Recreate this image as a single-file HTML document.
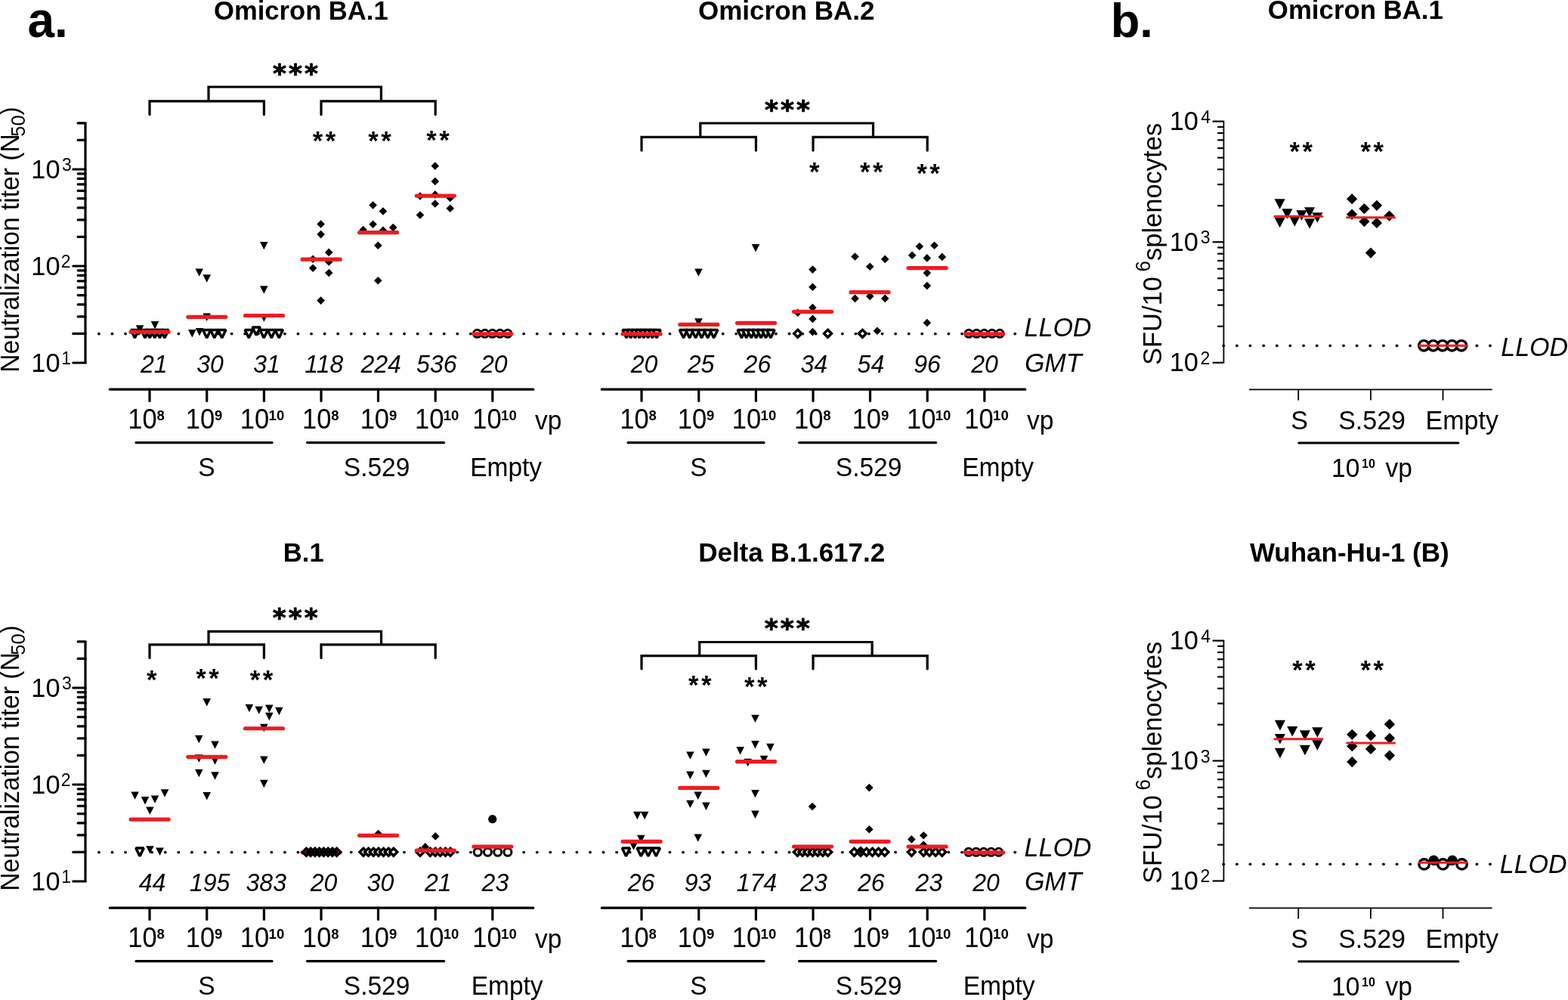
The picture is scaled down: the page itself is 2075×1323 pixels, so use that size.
<!DOCTYPE html>
<html><head><meta charset="utf-8"><title>Figure</title>
<style>
html,body{margin:0;padding:0;background:#fff;}
svg{display:block;}
text{fill:#000;}
.r{font-family:"Liberation Sans",Arial,sans-serif;}
.b{font-family:"Liberation Sans",Arial,sans-serif;font-weight:bold;}
.i{font-family:"Liberation Sans",Arial,sans-serif;font-style:italic;}
.db{font-family:"DejaVu Sans",sans-serif;font-weight:bold;}
</style></head>
<body>
<svg width="2075" height="1323" viewBox="0 0 2075 1323">
<rect width="2075" height="1323" fill="#fff"/>
<text transform="matrix(1 0 0 1.05 0 -2.45)" class="b" x="36.38" y="49.00" font-size="64">a.</text>
<text class="b" x="1469.67" y="48.80" font-size="63.3">b.</text>
<text class="b" x="283.09" y="26.20" font-size="34.6">Omicron BA.1</text>
<text class="b" x="924.02" y="26.00" font-size="35.0">Omicron BA.2</text>
<text class="b" x="374.82" y="742.70" font-size="34.6">B.1</text>
<text class="b" x="924.17" y="743.10" font-size="35.0">Delta B.1.617.2</text>
<text class="b" x="1677.87" y="25.00" font-size="34.8">Omicron BA.1</text>
<text class="b" x="1653.95" y="742.70" font-size="35.0">Wuhan-Hu-1 (B)</text>
<circle cx="130.90" cy="441.60" r="1.9"/>
<circle cx="148.47" cy="441.60" r="1.9"/>
<circle cx="166.04" cy="441.60" r="1.9"/>
<circle cx="183.61" cy="441.60" r="1.9"/>
<circle cx="201.18" cy="441.60" r="1.9"/>
<circle cx="218.75" cy="441.60" r="1.9"/>
<circle cx="236.32" cy="441.60" r="1.9"/>
<circle cx="253.89" cy="441.60" r="1.9"/>
<circle cx="271.46" cy="441.60" r="1.9"/>
<circle cx="289.03" cy="441.60" r="1.9"/>
<circle cx="306.60" cy="441.60" r="1.9"/>
<circle cx="324.17" cy="441.60" r="1.9"/>
<circle cx="341.74" cy="441.60" r="1.9"/>
<circle cx="359.31" cy="441.60" r="1.9"/>
<circle cx="376.88" cy="441.60" r="1.9"/>
<circle cx="394.45" cy="441.60" r="1.9"/>
<circle cx="412.02" cy="441.60" r="1.9"/>
<circle cx="429.59" cy="441.60" r="1.9"/>
<circle cx="447.16" cy="441.60" r="1.9"/>
<circle cx="464.73" cy="441.60" r="1.9"/>
<circle cx="482.30" cy="441.60" r="1.9"/>
<circle cx="499.87" cy="441.60" r="1.9"/>
<circle cx="517.44" cy="441.60" r="1.9"/>
<circle cx="535.01" cy="441.60" r="1.9"/>
<circle cx="552.58" cy="441.60" r="1.9"/>
<circle cx="570.15" cy="441.60" r="1.9"/>
<circle cx="587.72" cy="441.60" r="1.9"/>
<circle cx="605.29" cy="441.60" r="1.9"/>
<circle cx="622.86" cy="441.60" r="1.9"/>
<circle cx="640.43" cy="441.60" r="1.9"/>
<circle cx="658.00" cy="441.60" r="1.9"/>
<circle cx="675.57" cy="441.60" r="1.9"/>
<circle cx="693.14" cy="441.60" r="1.9"/>
<circle cx="710.71" cy="441.60" r="1.9"/>
<circle cx="728.28" cy="441.60" r="1.9"/>
<circle cx="745.85" cy="441.60" r="1.9"/>
<circle cx="763.42" cy="441.60" r="1.9"/>
<circle cx="780.99" cy="441.60" r="1.9"/>
<circle cx="798.56" cy="441.60" r="1.9"/>
<circle cx="816.13" cy="441.60" r="1.9"/>
<circle cx="833.70" cy="441.60" r="1.9"/>
<circle cx="851.27" cy="441.60" r="1.9"/>
<circle cx="868.84" cy="441.60" r="1.9"/>
<circle cx="886.41" cy="441.60" r="1.9"/>
<circle cx="903.98" cy="441.60" r="1.9"/>
<circle cx="921.55" cy="441.60" r="1.9"/>
<circle cx="939.12" cy="441.60" r="1.9"/>
<circle cx="956.69" cy="441.60" r="1.9"/>
<circle cx="974.26" cy="441.60" r="1.9"/>
<circle cx="991.83" cy="441.60" r="1.9"/>
<circle cx="1009.40" cy="441.60" r="1.9"/>
<circle cx="1026.97" cy="441.60" r="1.9"/>
<circle cx="1044.54" cy="441.60" r="1.9"/>
<circle cx="1062.11" cy="441.60" r="1.9"/>
<circle cx="1079.68" cy="441.60" r="1.9"/>
<circle cx="1097.25" cy="441.60" r="1.9"/>
<circle cx="1114.82" cy="441.60" r="1.9"/>
<circle cx="1132.39" cy="441.60" r="1.9"/>
<circle cx="1149.96" cy="441.60" r="1.9"/>
<circle cx="1167.53" cy="441.60" r="1.9"/>
<circle cx="1185.10" cy="441.60" r="1.9"/>
<circle cx="1202.67" cy="441.60" r="1.9"/>
<circle cx="1220.24" cy="441.60" r="1.9"/>
<circle cx="1237.81" cy="441.60" r="1.9"/>
<circle cx="1255.38" cy="441.60" r="1.9"/>
<circle cx="1272.95" cy="441.60" r="1.9"/>
<circle cx="1290.52" cy="441.60" r="1.9"/>
<circle cx="1308.09" cy="441.60" r="1.9"/>
<circle cx="1325.66" cy="441.60" r="1.9"/>
<circle cx="1343.23" cy="441.60" r="1.9"/>
<circle cx="130.90" cy="1127.60" r="1.9"/>
<circle cx="148.47" cy="1127.60" r="1.9"/>
<circle cx="166.04" cy="1127.60" r="1.9"/>
<circle cx="183.61" cy="1127.60" r="1.9"/>
<circle cx="201.18" cy="1127.60" r="1.9"/>
<circle cx="218.75" cy="1127.60" r="1.9"/>
<circle cx="236.32" cy="1127.60" r="1.9"/>
<circle cx="253.89" cy="1127.60" r="1.9"/>
<circle cx="271.46" cy="1127.60" r="1.9"/>
<circle cx="289.03" cy="1127.60" r="1.9"/>
<circle cx="306.60" cy="1127.60" r="1.9"/>
<circle cx="324.17" cy="1127.60" r="1.9"/>
<circle cx="341.74" cy="1127.60" r="1.9"/>
<circle cx="359.31" cy="1127.60" r="1.9"/>
<circle cx="376.88" cy="1127.60" r="1.9"/>
<circle cx="394.45" cy="1127.60" r="1.9"/>
<circle cx="412.02" cy="1127.60" r="1.9"/>
<circle cx="429.59" cy="1127.60" r="1.9"/>
<circle cx="447.16" cy="1127.60" r="1.9"/>
<circle cx="464.73" cy="1127.60" r="1.9"/>
<circle cx="482.30" cy="1127.60" r="1.9"/>
<circle cx="499.87" cy="1127.60" r="1.9"/>
<circle cx="517.44" cy="1127.60" r="1.9"/>
<circle cx="535.01" cy="1127.60" r="1.9"/>
<circle cx="552.58" cy="1127.60" r="1.9"/>
<circle cx="570.15" cy="1127.60" r="1.9"/>
<circle cx="587.72" cy="1127.60" r="1.9"/>
<circle cx="605.29" cy="1127.60" r="1.9"/>
<circle cx="622.86" cy="1127.60" r="1.9"/>
<circle cx="640.43" cy="1127.60" r="1.9"/>
<circle cx="658.00" cy="1127.60" r="1.9"/>
<circle cx="675.57" cy="1127.60" r="1.9"/>
<circle cx="693.14" cy="1127.60" r="1.9"/>
<circle cx="710.71" cy="1127.60" r="1.9"/>
<circle cx="728.28" cy="1127.60" r="1.9"/>
<circle cx="745.85" cy="1127.60" r="1.9"/>
<circle cx="763.42" cy="1127.60" r="1.9"/>
<circle cx="780.99" cy="1127.60" r="1.9"/>
<circle cx="798.56" cy="1127.60" r="1.9"/>
<circle cx="816.13" cy="1127.60" r="1.9"/>
<circle cx="833.70" cy="1127.60" r="1.9"/>
<circle cx="851.27" cy="1127.60" r="1.9"/>
<circle cx="868.84" cy="1127.60" r="1.9"/>
<circle cx="886.41" cy="1127.60" r="1.9"/>
<circle cx="903.98" cy="1127.60" r="1.9"/>
<circle cx="921.55" cy="1127.60" r="1.9"/>
<circle cx="939.12" cy="1127.60" r="1.9"/>
<circle cx="956.69" cy="1127.60" r="1.9"/>
<circle cx="974.26" cy="1127.60" r="1.9"/>
<circle cx="991.83" cy="1127.60" r="1.9"/>
<circle cx="1009.40" cy="1127.60" r="1.9"/>
<circle cx="1026.97" cy="1127.60" r="1.9"/>
<circle cx="1044.54" cy="1127.60" r="1.9"/>
<circle cx="1062.11" cy="1127.60" r="1.9"/>
<circle cx="1079.68" cy="1127.60" r="1.9"/>
<circle cx="1097.25" cy="1127.60" r="1.9"/>
<circle cx="1114.82" cy="1127.60" r="1.9"/>
<circle cx="1132.39" cy="1127.60" r="1.9"/>
<circle cx="1149.96" cy="1127.60" r="1.9"/>
<circle cx="1167.53" cy="1127.60" r="1.9"/>
<circle cx="1185.10" cy="1127.60" r="1.9"/>
<circle cx="1202.67" cy="1127.60" r="1.9"/>
<circle cx="1220.24" cy="1127.60" r="1.9"/>
<circle cx="1237.81" cy="1127.60" r="1.9"/>
<circle cx="1255.38" cy="1127.60" r="1.9"/>
<circle cx="1272.95" cy="1127.60" r="1.9"/>
<circle cx="1290.52" cy="1127.60" r="1.9"/>
<circle cx="1308.09" cy="1127.60" r="1.9"/>
<circle cx="1325.66" cy="1127.60" r="1.9"/>
<circle cx="1343.23" cy="1127.60" r="1.9"/>
<circle cx="1619.20" cy="457.30" r="1.9"/>
<circle cx="1636.84" cy="457.30" r="1.9"/>
<circle cx="1654.48" cy="457.30" r="1.9"/>
<circle cx="1672.12" cy="457.30" r="1.9"/>
<circle cx="1689.76" cy="457.30" r="1.9"/>
<circle cx="1707.40" cy="457.30" r="1.9"/>
<circle cx="1725.04" cy="457.30" r="1.9"/>
<circle cx="1742.68" cy="457.30" r="1.9"/>
<circle cx="1760.32" cy="457.30" r="1.9"/>
<circle cx="1777.96" cy="457.30" r="1.9"/>
<circle cx="1795.60" cy="457.30" r="1.9"/>
<circle cx="1813.24" cy="457.30" r="1.9"/>
<circle cx="1830.88" cy="457.30" r="1.9"/>
<circle cx="1848.52" cy="457.30" r="1.9"/>
<circle cx="1866.16" cy="457.30" r="1.9"/>
<circle cx="1883.80" cy="457.30" r="1.9"/>
<circle cx="1901.44" cy="457.30" r="1.9"/>
<circle cx="1919.08" cy="457.30" r="1.9"/>
<circle cx="1936.72" cy="457.30" r="1.9"/>
<circle cx="1954.36" cy="457.30" r="1.9"/>
<circle cx="1972.00" cy="457.30" r="1.9"/>
<circle cx="1619.20" cy="1143.30" r="1.9"/>
<circle cx="1636.84" cy="1143.30" r="1.9"/>
<circle cx="1654.48" cy="1143.30" r="1.9"/>
<circle cx="1672.12" cy="1143.30" r="1.9"/>
<circle cx="1689.76" cy="1143.30" r="1.9"/>
<circle cx="1707.40" cy="1143.30" r="1.9"/>
<circle cx="1725.04" cy="1143.30" r="1.9"/>
<circle cx="1742.68" cy="1143.30" r="1.9"/>
<circle cx="1760.32" cy="1143.30" r="1.9"/>
<circle cx="1777.96" cy="1143.30" r="1.9"/>
<circle cx="1795.60" cy="1143.30" r="1.9"/>
<circle cx="1813.24" cy="1143.30" r="1.9"/>
<circle cx="1830.88" cy="1143.30" r="1.9"/>
<circle cx="1848.52" cy="1143.30" r="1.9"/>
<circle cx="1866.16" cy="1143.30" r="1.9"/>
<circle cx="1883.80" cy="1143.30" r="1.9"/>
<circle cx="1901.44" cy="1143.30" r="1.9"/>
<circle cx="1919.08" cy="1143.30" r="1.9"/>
<circle cx="1936.72" cy="1143.30" r="1.9"/>
<circle cx="1954.36" cy="1143.30" r="1.9"/>
<circle cx="1972.00" cy="1143.30" r="1.9"/>
<line x1="145.40" y1="515.20" x2="705.70" y2="515.20" stroke="#000" stroke-width="3.2" stroke-linecap="round"/>
<line x1="198.00" y1="515.20" x2="198.00" y2="530.50" stroke="#000" stroke-width="3.2" stroke-linecap="round"/>
<line x1="273.70" y1="515.20" x2="273.70" y2="530.50" stroke="#000" stroke-width="3.2" stroke-linecap="round"/>
<line x1="349.40" y1="515.20" x2="349.40" y2="530.50" stroke="#000" stroke-width="3.2" stroke-linecap="round"/>
<line x1="425.00" y1="515.20" x2="425.00" y2="530.50" stroke="#000" stroke-width="3.2" stroke-linecap="round"/>
<line x1="500.50" y1="515.20" x2="500.50" y2="530.50" stroke="#000" stroke-width="3.2" stroke-linecap="round"/>
<line x1="576.20" y1="515.20" x2="576.20" y2="530.50" stroke="#000" stroke-width="3.2" stroke-linecap="round"/>
<line x1="651.80" y1="515.20" x2="651.80" y2="530.50" stroke="#000" stroke-width="3.2" stroke-linecap="round"/>
<text class="r" x="169.26" y="567.00" font-size="34.5" transform="matrix(1 0 0 1.045 0 -25.515)">10</text>
<text class="b" x="207.57" y="555.50" font-size="18.5">8</text>
<text class="r" x="245.76" y="567.00" font-size="34.5" transform="matrix(1 0 0 1.045 0 -25.515)">10</text>
<text class="b" x="284.06" y="555.50" font-size="18.5">9</text>
<text class="r" x="317.85" y="567.00" font-size="34.5" transform="matrix(1 0 0 1.045 0 -25.515)">10</text>
<text class="b" x="355.60" y="555.50" font-size="18.5">10</text>
<text class="r" x="399.96" y="567.00" font-size="34.5" transform="matrix(1 0 0 1.045 0 -25.515)">10</text>
<text class="b" x="438.27" y="555.50" font-size="18.5">8</text>
<text class="r" x="476.66" y="567.00" font-size="34.5" transform="matrix(1 0 0 1.045 0 -25.515)">10</text>
<text class="b" x="514.96" y="555.50" font-size="18.5">9</text>
<text class="r" x="548.96" y="567.00" font-size="34.5" transform="matrix(1 0 0 1.045 0 -25.515)">10</text>
<text class="b" x="586.71" y="555.50" font-size="18.5">10</text>
<text class="r" x="625.35" y="567.00" font-size="34.5" transform="matrix(1 0 0 1.045 0 -25.515)">10</text>
<text class="b" x="663.10" y="555.50" font-size="18.5">10</text>
<text class="r" x="707.91" y="567.60" font-size="33.5" transform="matrix(1 0 0 1.045 0 -25.542)">vp</text>
<line x1="180.00" y1="585.60" x2="360.00" y2="585.60" stroke="#000" stroke-width="3.2" stroke-linecap="round"/>
<line x1="406.50" y1="585.60" x2="587.60" y2="585.60" stroke="#000" stroke-width="3.2" stroke-linecap="round"/>
<text class="r" x="262.28" y="630.50" font-size="33.5" transform="matrix(1 0 0 1.045 0 -28.372)">S</text>
<text class="r" x="454.81" y="630.50" font-size="33.5" transform="matrix(1 0 0 1.045 0 -28.372)">S.529</text>
<text class="r" x="622.16" y="630.30" font-size="33.5" transform="matrix(1 0 0 1.045 0 -28.363)">Empty</text>
<text class="i" x="185.98" y="493.00" font-size="32" transform="matrix(1 0 0 1.045 0 -22.185)">21</text>
<text class="i" x="260.16" y="493.00" font-size="32" transform="matrix(1 0 0 1.045 0 -22.185)">30</text>
<text class="i" x="335.34" y="493.00" font-size="32" transform="matrix(1 0 0 1.045 0 -22.185)">31</text>
<text class="i" x="403.38" y="493.00" font-size="32" transform="matrix(1 0 0 1.045 0 -22.185)">118</text>
<text class="i" x="477.38" y="493.00" font-size="32" transform="matrix(1 0 0 1.045 0 -22.185)">224</text>
<text class="i" x="551.12" y="493.00" font-size="32" transform="matrix(1 0 0 1.045 0 -22.185)">536</text>
<text class="i" x="636.00" y="493.00" font-size="32" transform="matrix(1 0 0 1.045 0 -22.185)">20</text>
<polyline points="198.00,151.60 198.00,133.80 349.40,133.80 349.40,151.60" fill="none" stroke="#000" stroke-width="3.2" stroke-linecap="round" stroke-linejoin="miter"/>
<polyline points="425.00,151.60 425.00,133.80 576.20,133.80 576.20,151.60" fill="none" stroke="#000" stroke-width="3.2" stroke-linecap="round" stroke-linejoin="miter"/>
<polyline points="276.00,133.80 276.00,115.00 504.40,115.00 504.40,133.80" fill="none" stroke="#000" stroke-width="3.2" stroke-linecap="butt" stroke-linejoin="miter"/>
<text class="db" x="361.07" y="109.35" font-size="34.3" letter-spacing="3.00" stroke="#000" stroke-width="0.9" stroke-linejoin="round">***</text>
<text class="b" x="413.72" y="197.80" font-size="34.7" letter-spacing="3.50">**</text>
<text class="b" x="487.32" y="197.80" font-size="34.7" letter-spacing="3.50">**</text>
<text class="b" x="564.22" y="196.50" font-size="34.7" letter-spacing="3.50">**</text>
<line x1="113.00" y1="161.93" x2="113.00" y2="481.20" stroke="#000" stroke-width="3.2" stroke-linecap="butt"/>
<line x1="96.80" y1="480.00" x2="113.00" y2="480.00" stroke="#000" stroke-width="3.2" stroke-linecap="round"/>
<text class="r" x="41.36" y="491.60" font-size="34.3" transform="matrix(1 0 0 1.045 0 -22.122)">10</text>
<text class="r" x="81.16" y="481.60" font-size="23.0" transform="matrix(1 0 0 1.045 0 -21.672)">1</text>
<line x1="96.80" y1="352.00" x2="113.00" y2="352.00" stroke="#000" stroke-width="3.2" stroke-linecap="round"/>
<text class="r" x="41.36" y="363.60" font-size="34.3" transform="matrix(1 0 0 1.045 0 -16.362)">10</text>
<text class="r" x="80.85" y="353.60" font-size="23.0" transform="matrix(1 0 0 1.045 0 -15.912)">2</text>
<line x1="96.80" y1="224.00" x2="113.00" y2="224.00" stroke="#000" stroke-width="3.2" stroke-linecap="round"/>
<text class="r" x="41.36" y="235.60" font-size="34.3" transform="matrix(1 0 0 1.045 0 -10.602)">10</text>
<text class="r" x="82.08" y="225.60" font-size="23.0" transform="matrix(1 0 0 1.045 0 -10.152)">3</text>
<line x1="96.80" y1="441.47" x2="113.00" y2="441.47" stroke="#000" stroke-width="3.2" stroke-linecap="round"/>
<line x1="103.20" y1="418.93" x2="113.00" y2="418.93" stroke="#000" stroke-width="3.2" stroke-linecap="round"/>
<line x1="103.20" y1="402.94" x2="113.00" y2="402.94" stroke="#000" stroke-width="3.2" stroke-linecap="round"/>
<line x1="103.20" y1="390.53" x2="113.00" y2="390.53" stroke="#000" stroke-width="3.2" stroke-linecap="round"/>
<line x1="103.20" y1="380.40" x2="113.00" y2="380.40" stroke="#000" stroke-width="3.2" stroke-linecap="round"/>
<line x1="103.20" y1="371.83" x2="113.00" y2="371.83" stroke="#000" stroke-width="3.2" stroke-linecap="round"/>
<line x1="103.20" y1="364.40" x2="113.00" y2="364.40" stroke="#000" stroke-width="3.2" stroke-linecap="round"/>
<line x1="103.20" y1="357.86" x2="113.00" y2="357.86" stroke="#000" stroke-width="3.2" stroke-linecap="round"/>
<line x1="103.20" y1="313.47" x2="113.00" y2="313.47" stroke="#000" stroke-width="3.2" stroke-linecap="round"/>
<line x1="103.20" y1="290.93" x2="113.00" y2="290.93" stroke="#000" stroke-width="3.2" stroke-linecap="round"/>
<line x1="103.20" y1="274.94" x2="113.00" y2="274.94" stroke="#000" stroke-width="3.2" stroke-linecap="round"/>
<line x1="103.20" y1="262.53" x2="113.00" y2="262.53" stroke="#000" stroke-width="3.2" stroke-linecap="round"/>
<line x1="103.20" y1="252.40" x2="113.00" y2="252.40" stroke="#000" stroke-width="3.2" stroke-linecap="round"/>
<line x1="103.20" y1="243.83" x2="113.00" y2="243.83" stroke="#000" stroke-width="3.2" stroke-linecap="round"/>
<line x1="103.20" y1="236.40" x2="113.00" y2="236.40" stroke="#000" stroke-width="3.2" stroke-linecap="round"/>
<line x1="103.20" y1="229.86" x2="113.00" y2="229.86" stroke="#000" stroke-width="3.2" stroke-linecap="round"/>
<line x1="103.20" y1="185.47" x2="113.00" y2="185.47" stroke="#000" stroke-width="3.2" stroke-linecap="round"/>
<line x1="103.20" y1="162.93" x2="113.00" y2="162.93" stroke="#000" stroke-width="3.2" stroke-linecap="round"/>
<text class="r" font-size="33.6" transform="translate(25.00,492.70) rotate(-90) scale(1,1.03)">Neutralization titer (N<tspan font-size="25.5" dx="-3.5" dy="7.8">50</tspan><tspan dy="-7.8">)</tspan></text>
<line x1="796.40" y1="515.20" x2="1356.70" y2="515.20" stroke="#000" stroke-width="3.2" stroke-linecap="round"/>
<line x1="849.00" y1="515.20" x2="849.00" y2="530.50" stroke="#000" stroke-width="3.2" stroke-linecap="round"/>
<line x1="924.70" y1="515.20" x2="924.70" y2="530.50" stroke="#000" stroke-width="3.2" stroke-linecap="round"/>
<line x1="1000.40" y1="515.20" x2="1000.40" y2="530.50" stroke="#000" stroke-width="3.2" stroke-linecap="round"/>
<line x1="1076.00" y1="515.20" x2="1076.00" y2="530.50" stroke="#000" stroke-width="3.2" stroke-linecap="round"/>
<line x1="1151.50" y1="515.20" x2="1151.50" y2="530.50" stroke="#000" stroke-width="3.2" stroke-linecap="round"/>
<line x1="1227.20" y1="515.20" x2="1227.20" y2="530.50" stroke="#000" stroke-width="3.2" stroke-linecap="round"/>
<line x1="1302.80" y1="515.20" x2="1302.80" y2="530.50" stroke="#000" stroke-width="3.2" stroke-linecap="round"/>
<text class="r" x="820.27" y="567.00" font-size="34.5" transform="matrix(1 0 0 1.045 0 -25.515)">10</text>
<text class="b" x="858.57" y="555.50" font-size="18.5">8</text>
<text class="r" x="896.76" y="567.00" font-size="34.5" transform="matrix(1 0 0 1.045 0 -25.515)">10</text>
<text class="b" x="935.06" y="555.50" font-size="18.5">9</text>
<text class="r" x="968.86" y="567.00" font-size="34.5" transform="matrix(1 0 0 1.045 0 -25.515)">10</text>
<text class="b" x="1006.61" y="555.50" font-size="18.5">10</text>
<text class="r" x="1050.97" y="567.00" font-size="34.5" transform="matrix(1 0 0 1.045 0 -25.515)">10</text>
<text class="b" x="1089.27" y="555.50" font-size="18.5">8</text>
<text class="r" x="1127.66" y="567.00" font-size="34.5" transform="matrix(1 0 0 1.045 0 -25.515)">10</text>
<text class="b" x="1165.96" y="555.50" font-size="18.5">9</text>
<text class="r" x="1199.96" y="567.00" font-size="34.5" transform="matrix(1 0 0 1.045 0 -25.515)">10</text>
<text class="b" x="1237.71" y="555.50" font-size="18.5">10</text>
<text class="r" x="1276.36" y="567.00" font-size="34.5" transform="matrix(1 0 0 1.045 0 -25.515)">10</text>
<text class="b" x="1314.11" y="555.50" font-size="18.5">10</text>
<text class="r" x="1358.91" y="567.60" font-size="33.5" transform="matrix(1 0 0 1.045 0 -25.542)">vp</text>
<line x1="831.00" y1="585.60" x2="1011.00" y2="585.60" stroke="#000" stroke-width="3.2" stroke-linecap="round"/>
<line x1="1057.50" y1="585.60" x2="1238.60" y2="585.60" stroke="#000" stroke-width="3.2" stroke-linecap="round"/>
<text class="r" x="913.28" y="630.50" font-size="33.5" transform="matrix(1 0 0 1.045 0 -28.372)">S</text>
<text class="r" x="1105.82" y="630.50" font-size="33.5" transform="matrix(1 0 0 1.045 0 -28.372)">S.529</text>
<text class="r" x="1273.16" y="630.30" font-size="33.5" transform="matrix(1 0 0 1.045 0 -28.363)">Empty</text>
<text class="i" x="834.80" y="493.00" font-size="32" transform="matrix(1 0 0 1.045 0 -22.185)">20</text>
<text class="i" x="909.74" y="493.00" font-size="32" transform="matrix(1 0 0 1.045 0 -22.185)">25</text>
<text class="i" x="984.60" y="493.00" font-size="32" transform="matrix(1 0 0 1.045 0 -22.185)">26</text>
<text class="i" x="1059.44" y="493.00" font-size="32" transform="matrix(1 0 0 1.045 0 -22.185)">34</text>
<text class="i" x="1134.60" y="493.00" font-size="32" transform="matrix(1 0 0 1.045 0 -22.185)">54</text>
<text class="i" x="1209.20" y="493.00" font-size="32" transform="matrix(1 0 0 1.045 0 -22.185)">96</text>
<text class="i" x="1285.30" y="493.00" font-size="32" transform="matrix(1 0 0 1.045 0 -22.185)">20</text>
<polyline points="849.00,199.10 849.00,181.30 1000.40,181.30 1000.40,199.10" fill="none" stroke="#000" stroke-width="3.2" stroke-linecap="round" stroke-linejoin="miter"/>
<polyline points="1076.00,199.10 1076.00,181.30 1227.20,181.30 1227.20,199.10" fill="none" stroke="#000" stroke-width="3.2" stroke-linecap="round" stroke-linejoin="miter"/>
<polyline points="926.80,181.30 926.80,163.00 1155.50,163.00 1155.50,181.30" fill="none" stroke="#000" stroke-width="3.2" stroke-linecap="butt" stroke-linejoin="miter"/>
<text class="db" x="1012.07" y="157.05" font-size="34.3" letter-spacing="3.00" stroke="#000" stroke-width="0.9" stroke-linejoin="round">***</text>
<text class="b" x="1070.93" y="238.90" font-size="34.7" letter-spacing="3.50">*</text>
<text class="b" x="1138.12" y="238.90" font-size="34.7" letter-spacing="3.50">**</text>
<text class="b" x="1213.22" y="240.90" font-size="34.7" letter-spacing="3.50">**</text>
<text class="i" x="1355.58" y="445.00" font-size="34" transform="matrix(1 0 0 1.045 0 -20.025)">LLOD</text>
<text class="i" x="1355.90" y="492.20" font-size="34" transform="matrix(1 0 0 1.045 0 -22.149)">GMT</text>
<line x1="145.40" y1="1201.20" x2="705.70" y2="1201.20" stroke="#000" stroke-width="3.2" stroke-linecap="round"/>
<line x1="198.00" y1="1201.20" x2="198.00" y2="1216.50" stroke="#000" stroke-width="3.2" stroke-linecap="round"/>
<line x1="273.70" y1="1201.20" x2="273.70" y2="1216.50" stroke="#000" stroke-width="3.2" stroke-linecap="round"/>
<line x1="349.40" y1="1201.20" x2="349.40" y2="1216.50" stroke="#000" stroke-width="3.2" stroke-linecap="round"/>
<line x1="425.00" y1="1201.20" x2="425.00" y2="1216.50" stroke="#000" stroke-width="3.2" stroke-linecap="round"/>
<line x1="500.50" y1="1201.20" x2="500.50" y2="1216.50" stroke="#000" stroke-width="3.2" stroke-linecap="round"/>
<line x1="576.20" y1="1201.20" x2="576.20" y2="1216.50" stroke="#000" stroke-width="3.2" stroke-linecap="round"/>
<line x1="651.80" y1="1201.20" x2="651.80" y2="1216.50" stroke="#000" stroke-width="3.2" stroke-linecap="round"/>
<text class="r" x="169.26" y="1253.00" font-size="34.5" transform="matrix(1 0 0 1.045 0 -56.385)">10</text>
<text class="b" x="207.57" y="1241.50" font-size="18.5">8</text>
<text class="r" x="245.76" y="1253.00" font-size="34.5" transform="matrix(1 0 0 1.045 0 -56.385)">10</text>
<text class="b" x="284.06" y="1241.50" font-size="18.5">9</text>
<text class="r" x="317.85" y="1253.00" font-size="34.5" transform="matrix(1 0 0 1.045 0 -56.385)">10</text>
<text class="b" x="355.60" y="1241.50" font-size="18.5">10</text>
<text class="r" x="399.96" y="1253.00" font-size="34.5" transform="matrix(1 0 0 1.045 0 -56.385)">10</text>
<text class="b" x="438.27" y="1241.50" font-size="18.5">8</text>
<text class="r" x="476.66" y="1253.00" font-size="34.5" transform="matrix(1 0 0 1.045 0 -56.385)">10</text>
<text class="b" x="514.96" y="1241.50" font-size="18.5">9</text>
<text class="r" x="548.96" y="1253.00" font-size="34.5" transform="matrix(1 0 0 1.045 0 -56.385)">10</text>
<text class="b" x="586.71" y="1241.50" font-size="18.5">10</text>
<text class="r" x="625.35" y="1253.00" font-size="34.5" transform="matrix(1 0 0 1.045 0 -56.385)">10</text>
<text class="b" x="663.10" y="1241.50" font-size="18.5">10</text>
<text class="r" x="707.91" y="1253.60" font-size="33.5" transform="matrix(1 0 0 1.045 0 -56.412)">vp</text>
<line x1="180.00" y1="1271.60" x2="360.00" y2="1271.60" stroke="#000" stroke-width="3.2" stroke-linecap="round"/>
<line x1="406.50" y1="1271.60" x2="587.60" y2="1271.60" stroke="#000" stroke-width="3.2" stroke-linecap="round"/>
<text class="r" x="262.28" y="1316.50" font-size="33.5" transform="matrix(1 0 0 1.045 0 -59.242)">S</text>
<text class="r" x="454.81" y="1316.50" font-size="33.5" transform="matrix(1 0 0 1.045 0 -59.242)">S.529</text>
<text class="r" x="623.66" y="1316.30" font-size="33.5" transform="matrix(1 0 0 1.045 0 -59.233)">Empty</text>
<text class="i" x="183.76" y="1179.00" font-size="32" transform="matrix(1 0 0 1.045 0 -53.055)">44</text>
<text class="i" x="251.00" y="1179.00" font-size="32" transform="matrix(1 0 0 1.045 0 -53.055)">195</text>
<text class="i" x="325.56" y="1179.00" font-size="32" transform="matrix(1 0 0 1.045 0 -53.055)">383</text>
<text class="i" x="410.70" y="1179.00" font-size="32" transform="matrix(1 0 0 1.045 0 -53.055)">20</text>
<text class="i" x="485.66" y="1179.00" font-size="32" transform="matrix(1 0 0 1.045 0 -53.055)">30</text>
<text class="i" x="562.08" y="1179.00" font-size="32" transform="matrix(1 0 0 1.045 0 -53.055)">21</text>
<text class="i" x="637.60" y="1179.00" font-size="32" transform="matrix(1 0 0 1.045 0 -53.055)">23</text>
<polyline points="198.00,870.40 198.00,852.90 349.40,852.90 349.40,870.40" fill="none" stroke="#000" stroke-width="3.2" stroke-linecap="round" stroke-linejoin="miter"/>
<polyline points="425.00,870.40 425.00,852.90 576.20,852.90 576.20,870.40" fill="none" stroke="#000" stroke-width="3.2" stroke-linecap="round" stroke-linejoin="miter"/>
<polyline points="276.00,852.90 276.00,835.40 504.50,835.40 504.50,852.90" fill="none" stroke="#000" stroke-width="3.2" stroke-linecap="butt" stroke-linejoin="miter"/>
<text class="db" x="360.87" y="828.65" font-size="34.3" letter-spacing="3.00" stroke="#000" stroke-width="0.9" stroke-linejoin="round">***</text>
<text class="b" x="193.93" y="910.50" font-size="34.7" letter-spacing="3.50">*</text>
<text class="b" x="259.32" y="909.30" font-size="34.7" letter-spacing="3.50">**</text>
<text class="b" x="330.82" y="910.50" font-size="34.7" letter-spacing="3.50">**</text>
<line x1="113.00" y1="847.93" x2="113.00" y2="1167.20" stroke="#000" stroke-width="3.2" stroke-linecap="butt"/>
<line x1="96.80" y1="1166.00" x2="113.00" y2="1166.00" stroke="#000" stroke-width="3.2" stroke-linecap="round"/>
<text class="r" x="41.36" y="1177.60" font-size="34.3" transform="matrix(1 0 0 1.045 0 -52.992)">10</text>
<text class="r" x="81.16" y="1167.60" font-size="23.0" transform="matrix(1 0 0 1.045 0 -52.542)">1</text>
<line x1="96.80" y1="1038.00" x2="113.00" y2="1038.00" stroke="#000" stroke-width="3.2" stroke-linecap="round"/>
<text class="r" x="41.36" y="1049.60" font-size="34.3" transform="matrix(1 0 0 1.045 0 -47.232)">10</text>
<text class="r" x="80.85" y="1039.60" font-size="23.0" transform="matrix(1 0 0 1.045 0 -46.782)">2</text>
<line x1="96.80" y1="910.00" x2="113.00" y2="910.00" stroke="#000" stroke-width="3.2" stroke-linecap="round"/>
<text class="r" x="41.36" y="921.60" font-size="34.3" transform="matrix(1 0 0 1.045 0 -41.472)">10</text>
<text class="r" x="82.08" y="911.60" font-size="23.0" transform="matrix(1 0 0 1.045 0 -41.022)">3</text>
<line x1="96.80" y1="1127.47" x2="113.00" y2="1127.47" stroke="#000" stroke-width="3.2" stroke-linecap="round"/>
<line x1="103.20" y1="1104.93" x2="113.00" y2="1104.93" stroke="#000" stroke-width="3.2" stroke-linecap="round"/>
<line x1="103.20" y1="1088.94" x2="113.00" y2="1088.94" stroke="#000" stroke-width="3.2" stroke-linecap="round"/>
<line x1="103.20" y1="1076.53" x2="113.00" y2="1076.53" stroke="#000" stroke-width="3.2" stroke-linecap="round"/>
<line x1="103.20" y1="1066.40" x2="113.00" y2="1066.40" stroke="#000" stroke-width="3.2" stroke-linecap="round"/>
<line x1="103.20" y1="1057.83" x2="113.00" y2="1057.83" stroke="#000" stroke-width="3.2" stroke-linecap="round"/>
<line x1="103.20" y1="1050.40" x2="113.00" y2="1050.40" stroke="#000" stroke-width="3.2" stroke-linecap="round"/>
<line x1="103.20" y1="1043.86" x2="113.00" y2="1043.86" stroke="#000" stroke-width="3.2" stroke-linecap="round"/>
<line x1="103.20" y1="999.47" x2="113.00" y2="999.47" stroke="#000" stroke-width="3.2" stroke-linecap="round"/>
<line x1="103.20" y1="976.93" x2="113.00" y2="976.93" stroke="#000" stroke-width="3.2" stroke-linecap="round"/>
<line x1="103.20" y1="960.94" x2="113.00" y2="960.94" stroke="#000" stroke-width="3.2" stroke-linecap="round"/>
<line x1="103.20" y1="948.53" x2="113.00" y2="948.53" stroke="#000" stroke-width="3.2" stroke-linecap="round"/>
<line x1="103.20" y1="938.40" x2="113.00" y2="938.40" stroke="#000" stroke-width="3.2" stroke-linecap="round"/>
<line x1="103.20" y1="929.83" x2="113.00" y2="929.83" stroke="#000" stroke-width="3.2" stroke-linecap="round"/>
<line x1="103.20" y1="922.40" x2="113.00" y2="922.40" stroke="#000" stroke-width="3.2" stroke-linecap="round"/>
<line x1="103.20" y1="915.86" x2="113.00" y2="915.86" stroke="#000" stroke-width="3.2" stroke-linecap="round"/>
<line x1="103.20" y1="871.47" x2="113.00" y2="871.47" stroke="#000" stroke-width="3.2" stroke-linecap="round"/>
<line x1="103.20" y1="848.93" x2="113.00" y2="848.93" stroke="#000" stroke-width="3.2" stroke-linecap="round"/>
<text class="r" font-size="33.6" transform="translate(25.00,1178.70) rotate(-90) scale(1,1.03)">Neutralization titer (N<tspan font-size="25.5" dx="-3.5" dy="7.8">50</tspan><tspan dy="-7.8">)</tspan></text>
<line x1="796.40" y1="1201.20" x2="1356.70" y2="1201.20" stroke="#000" stroke-width="3.2" stroke-linecap="round"/>
<line x1="849.00" y1="1201.20" x2="849.00" y2="1216.50" stroke="#000" stroke-width="3.2" stroke-linecap="round"/>
<line x1="924.70" y1="1201.20" x2="924.70" y2="1216.50" stroke="#000" stroke-width="3.2" stroke-linecap="round"/>
<line x1="1000.40" y1="1201.20" x2="1000.40" y2="1216.50" stroke="#000" stroke-width="3.2" stroke-linecap="round"/>
<line x1="1076.00" y1="1201.20" x2="1076.00" y2="1216.50" stroke="#000" stroke-width="3.2" stroke-linecap="round"/>
<line x1="1151.50" y1="1201.20" x2="1151.50" y2="1216.50" stroke="#000" stroke-width="3.2" stroke-linecap="round"/>
<line x1="1227.20" y1="1201.20" x2="1227.20" y2="1216.50" stroke="#000" stroke-width="3.2" stroke-linecap="round"/>
<line x1="1302.80" y1="1201.20" x2="1302.80" y2="1216.50" stroke="#000" stroke-width="3.2" stroke-linecap="round"/>
<text class="r" x="820.27" y="1253.00" font-size="34.5" transform="matrix(1 0 0 1.045 0 -56.385)">10</text>
<text class="b" x="858.57" y="1241.50" font-size="18.5">8</text>
<text class="r" x="896.76" y="1253.00" font-size="34.5" transform="matrix(1 0 0 1.045 0 -56.385)">10</text>
<text class="b" x="935.06" y="1241.50" font-size="18.5">9</text>
<text class="r" x="968.86" y="1253.00" font-size="34.5" transform="matrix(1 0 0 1.045 0 -56.385)">10</text>
<text class="b" x="1006.61" y="1241.50" font-size="18.5">10</text>
<text class="r" x="1050.97" y="1253.00" font-size="34.5" transform="matrix(1 0 0 1.045 0 -56.385)">10</text>
<text class="b" x="1089.27" y="1241.50" font-size="18.5">8</text>
<text class="r" x="1127.66" y="1253.00" font-size="34.5" transform="matrix(1 0 0 1.045 0 -56.385)">10</text>
<text class="b" x="1165.96" y="1241.50" font-size="18.5">9</text>
<text class="r" x="1199.96" y="1253.00" font-size="34.5" transform="matrix(1 0 0 1.045 0 -56.385)">10</text>
<text class="b" x="1237.71" y="1241.50" font-size="18.5">10</text>
<text class="r" x="1276.36" y="1253.00" font-size="34.5" transform="matrix(1 0 0 1.045 0 -56.385)">10</text>
<text class="b" x="1314.11" y="1241.50" font-size="18.5">10</text>
<text class="r" x="1358.91" y="1253.60" font-size="33.5" transform="matrix(1 0 0 1.045 0 -56.412)">vp</text>
<line x1="831.00" y1="1271.60" x2="1011.00" y2="1271.60" stroke="#000" stroke-width="3.2" stroke-linecap="round"/>
<line x1="1057.50" y1="1271.60" x2="1238.60" y2="1271.60" stroke="#000" stroke-width="3.2" stroke-linecap="round"/>
<text class="r" x="913.28" y="1316.50" font-size="33.5" transform="matrix(1 0 0 1.045 0 -59.242)">S</text>
<text class="r" x="1105.82" y="1316.50" font-size="33.5" transform="matrix(1 0 0 1.045 0 -59.242)">S.529</text>
<text class="r" x="1274.66" y="1316.30" font-size="33.5" transform="matrix(1 0 0 1.045 0 -59.233)">Empty</text>
<text class="i" x="830.70" y="1179.00" font-size="32" transform="matrix(1 0 0 1.045 0 -53.055)">26</text>
<text class="i" x="905.70" y="1179.00" font-size="32" transform="matrix(1 0 0 1.045 0 -53.055)">93</text>
<text class="i" x="974.74" y="1179.00" font-size="32" transform="matrix(1 0 0 1.045 0 -53.055)">174</text>
<text class="i" x="1059.10" y="1179.00" font-size="32" transform="matrix(1 0 0 1.045 0 -53.055)">23</text>
<text class="i" x="1135.00" y="1179.00" font-size="32" transform="matrix(1 0 0 1.045 0 -53.055)">26</text>
<text class="i" x="1211.60" y="1179.00" font-size="32" transform="matrix(1 0 0 1.045 0 -53.055)">23</text>
<text class="i" x="1287.20" y="1179.00" font-size="32" transform="matrix(1 0 0 1.045 0 -53.055)">20</text>
<polyline points="849.00,885.00 849.00,867.70 1000.40,867.70 1000.40,885.00" fill="none" stroke="#000" stroke-width="3.2" stroke-linecap="round" stroke-linejoin="miter"/>
<polyline points="1076.00,885.00 1076.00,867.70 1227.20,867.70 1227.20,885.00" fill="none" stroke="#000" stroke-width="3.2" stroke-linecap="round" stroke-linejoin="miter"/>
<polyline points="925.70,867.70 925.70,849.50 1154.10,849.50 1154.10,867.70" fill="none" stroke="#000" stroke-width="3.2" stroke-linecap="butt" stroke-linejoin="miter"/>
<text class="db" x="1011.87" y="843.05" font-size="34.3" letter-spacing="3.00" stroke="#000" stroke-width="0.9" stroke-linejoin="round">***</text>
<text class="b" x="910.92" y="917.80" font-size="34.7" letter-spacing="3.50">**</text>
<text class="b" x="984.92" y="920.00" font-size="34.7" letter-spacing="3.50">**</text>
<text class="i" x="1355.58" y="1133.20" font-size="34" transform="matrix(1 0 0 1.045 0 -50.994)">LLOD</text>
<text class="i" x="1355.90" y="1178.20" font-size="34" transform="matrix(1 0 0 1.045 0 -53.019)">GMT</text>
<line x1="1619.40" y1="159.80" x2="1619.40" y2="480.60" stroke="#000" stroke-width="1.8" stroke-linecap="butt"/>
<line x1="1604.60" y1="479.80" x2="1619.40" y2="479.80" stroke="#000" stroke-width="2.2" stroke-linecap="butt"/>
<text class="r" x="1547.76" y="491.40" font-size="34.3" transform="matrix(1 0 0 1.045 0 -22.113)">10</text>
<text class="r" x="1588.45" y="481.80" font-size="23.0" transform="matrix(1 0 0 1.045 0 -21.681)">2</text>
<line x1="1604.60" y1="320.20" x2="1619.40" y2="320.20" stroke="#000" stroke-width="2.2" stroke-linecap="butt"/>
<text class="r" x="1547.76" y="331.80" font-size="34.3" transform="matrix(1 0 0 1.045 0 -14.931)">10</text>
<text class="r" x="1588.68" y="322.20" font-size="23.0" transform="matrix(1 0 0 1.045 0 -14.499)">3</text>
<line x1="1604.60" y1="160.60" x2="1619.40" y2="160.60" stroke="#000" stroke-width="2.2" stroke-linecap="butt"/>
<text class="r" x="1547.76" y="172.20" font-size="34.3" transform="matrix(1 0 0 1.045 0 -7.749)">10</text>
<text class="r" x="1589.14" y="162.60" font-size="23.0" transform="matrix(1 0 0 1.045 0 -7.317)">4</text>
<line x1="1611.10" y1="431.76" x2="1619.40" y2="431.76" stroke="#000" stroke-width="2.2" stroke-linecap="butt"/>
<line x1="1611.10" y1="403.65" x2="1619.40" y2="403.65" stroke="#000" stroke-width="2.2" stroke-linecap="butt"/>
<line x1="1611.10" y1="383.71" x2="1619.40" y2="383.71" stroke="#000" stroke-width="2.2" stroke-linecap="butt"/>
<line x1="1611.10" y1="368.24" x2="1619.40" y2="368.24" stroke="#000" stroke-width="2.2" stroke-linecap="butt"/>
<line x1="1611.10" y1="355.61" x2="1619.40" y2="355.61" stroke="#000" stroke-width="2.2" stroke-linecap="butt"/>
<line x1="1611.10" y1="344.92" x2="1619.40" y2="344.92" stroke="#000" stroke-width="2.2" stroke-linecap="butt"/>
<line x1="1611.10" y1="335.67" x2="1619.40" y2="335.67" stroke="#000" stroke-width="2.2" stroke-linecap="butt"/>
<line x1="1611.10" y1="327.50" x2="1619.40" y2="327.50" stroke="#000" stroke-width="2.2" stroke-linecap="butt"/>
<line x1="1611.10" y1="272.16" x2="1619.40" y2="272.16" stroke="#000" stroke-width="2.2" stroke-linecap="butt"/>
<line x1="1611.10" y1="244.05" x2="1619.40" y2="244.05" stroke="#000" stroke-width="2.2" stroke-linecap="butt"/>
<line x1="1611.10" y1="224.11" x2="1619.40" y2="224.11" stroke="#000" stroke-width="2.2" stroke-linecap="butt"/>
<line x1="1611.10" y1="208.64" x2="1619.40" y2="208.64" stroke="#000" stroke-width="2.2" stroke-linecap="butt"/>
<line x1="1611.10" y1="196.01" x2="1619.40" y2="196.01" stroke="#000" stroke-width="2.2" stroke-linecap="butt"/>
<line x1="1611.10" y1="185.32" x2="1619.40" y2="185.32" stroke="#000" stroke-width="2.2" stroke-linecap="butt"/>
<line x1="1611.10" y1="176.07" x2="1619.40" y2="176.07" stroke="#000" stroke-width="2.2" stroke-linecap="butt"/>
<line x1="1611.10" y1="167.90" x2="1619.40" y2="167.90" stroke="#000" stroke-width="2.2" stroke-linecap="butt"/>
<line x1="1652.90" y1="515.40" x2="1974.60" y2="515.40" stroke="#000" stroke-width="1.8" stroke-linecap="butt"/>
<line x1="1718.20" y1="515.40" x2="1718.20" y2="529.60" stroke="#000" stroke-width="1.8" stroke-linecap="butt"/>
<line x1="1813.90" y1="515.40" x2="1813.90" y2="529.60" stroke="#000" stroke-width="1.8" stroke-linecap="butt"/>
<line x1="1909.50" y1="515.40" x2="1909.50" y2="529.60" stroke="#000" stroke-width="1.8" stroke-linecap="butt"/>
<text class="r" x="1708.31" y="568.00" font-size="34" transform="matrix(1 0 0 1.045 0 -25.560)">S</text>
<text class="r" x="1771.16" y="568.00" font-size="34" transform="matrix(1 0 0 1.045 0 -25.560)">S.529</text>
<text class="r" x="1886.63" y="568.00" font-size="34" transform="matrix(1 0 0 1.045 0 -25.560)">Empty</text>
<line x1="1718.70" y1="586.00" x2="1929.90" y2="586.00" stroke="#000" stroke-width="3.0" stroke-linecap="round"/>
<text class="r" x="1762.02" y="631.00" font-size="33.5" transform="matrix(1 0 0 1.045 0 -28.395)">10</text>
<text class="b" x="1802.04" y="618.50" font-size="16.0">10</text>
<text class="r" x="1833.46" y="631.00" font-size="33.5" transform="matrix(1 0 0 1.045 0 -28.395)">vp</text>
<text class="i" x="1986.28" y="470.90" font-size="34" transform="matrix(1 0 0 1.045 0 -21.190)">LLOD</text>
<text class="r" font-size="34.5" transform="translate(1537.00,483.00) rotate(-90) scale(1,1.03)">SFU/10 <tspan font-size="26" dx="-3" dy="-14.3">6</tspan><tspan dy="14.3">splenocytes</tspan></text>
<line x1="1619.40" y1="846.80" x2="1619.40" y2="1166.30" stroke="#000" stroke-width="1.8" stroke-linecap="butt"/>
<line x1="1604.60" y1="1165.50" x2="1619.40" y2="1165.50" stroke="#000" stroke-width="2.2" stroke-linecap="butt"/>
<text class="r" x="1547.76" y="1177.10" font-size="34.3" transform="matrix(1 0 0 1.045 0 -52.969)">10</text>
<text class="r" x="1588.45" y="1167.50" font-size="23.0" transform="matrix(1 0 0 1.045 0 -52.537)">2</text>
<line x1="1604.60" y1="1006.55" x2="1619.40" y2="1006.55" stroke="#000" stroke-width="2.2" stroke-linecap="butt"/>
<text class="r" x="1547.76" y="1018.15" font-size="34.3" transform="matrix(1 0 0 1.045 0 -45.817)">10</text>
<text class="r" x="1588.68" y="1008.55" font-size="23.0" transform="matrix(1 0 0 1.045 0 -45.385)">3</text>
<line x1="1604.60" y1="847.60" x2="1619.40" y2="847.60" stroke="#000" stroke-width="2.2" stroke-linecap="butt"/>
<text class="r" x="1547.76" y="859.20" font-size="34.3" transform="matrix(1 0 0 1.045 0 -38.664)">10</text>
<text class="r" x="1589.14" y="849.60" font-size="23.0" transform="matrix(1 0 0 1.045 0 -38.232)">4</text>
<line x1="1611.10" y1="1117.65" x2="1619.40" y2="1117.65" stroke="#000" stroke-width="2.2" stroke-linecap="butt"/>
<line x1="1611.10" y1="1089.66" x2="1619.40" y2="1089.66" stroke="#000" stroke-width="2.2" stroke-linecap="butt"/>
<line x1="1611.10" y1="1069.80" x2="1619.40" y2="1069.80" stroke="#000" stroke-width="2.2" stroke-linecap="butt"/>
<line x1="1611.10" y1="1054.40" x2="1619.40" y2="1054.40" stroke="#000" stroke-width="2.2" stroke-linecap="butt"/>
<line x1="1611.10" y1="1041.81" x2="1619.40" y2="1041.81" stroke="#000" stroke-width="2.2" stroke-linecap="butt"/>
<line x1="1611.10" y1="1031.17" x2="1619.40" y2="1031.17" stroke="#000" stroke-width="2.2" stroke-linecap="butt"/>
<line x1="1611.10" y1="1021.95" x2="1619.40" y2="1021.95" stroke="#000" stroke-width="2.2" stroke-linecap="butt"/>
<line x1="1611.10" y1="1013.82" x2="1619.40" y2="1013.82" stroke="#000" stroke-width="2.2" stroke-linecap="butt"/>
<line x1="1611.10" y1="958.70" x2="1619.40" y2="958.70" stroke="#000" stroke-width="2.2" stroke-linecap="butt"/>
<line x1="1611.10" y1="930.71" x2="1619.40" y2="930.71" stroke="#000" stroke-width="2.2" stroke-linecap="butt"/>
<line x1="1611.10" y1="910.85" x2="1619.40" y2="910.85" stroke="#000" stroke-width="2.2" stroke-linecap="butt"/>
<line x1="1611.10" y1="895.45" x2="1619.40" y2="895.45" stroke="#000" stroke-width="2.2" stroke-linecap="butt"/>
<line x1="1611.10" y1="882.86" x2="1619.40" y2="882.86" stroke="#000" stroke-width="2.2" stroke-linecap="butt"/>
<line x1="1611.10" y1="872.22" x2="1619.40" y2="872.22" stroke="#000" stroke-width="2.2" stroke-linecap="butt"/>
<line x1="1611.10" y1="863.00" x2="1619.40" y2="863.00" stroke="#000" stroke-width="2.2" stroke-linecap="butt"/>
<line x1="1611.10" y1="854.87" x2="1619.40" y2="854.87" stroke="#000" stroke-width="2.2" stroke-linecap="butt"/>
<line x1="1652.90" y1="1201.40" x2="1974.60" y2="1201.40" stroke="#000" stroke-width="1.8" stroke-linecap="butt"/>
<line x1="1718.20" y1="1201.40" x2="1718.20" y2="1215.60" stroke="#000" stroke-width="1.8" stroke-linecap="butt"/>
<line x1="1813.90" y1="1201.40" x2="1813.90" y2="1215.60" stroke="#000" stroke-width="1.8" stroke-linecap="butt"/>
<line x1="1909.50" y1="1201.40" x2="1909.50" y2="1215.60" stroke="#000" stroke-width="1.8" stroke-linecap="butt"/>
<text class="r" x="1708.31" y="1254.00" font-size="34" transform="matrix(1 0 0 1.045 0 -56.430)">S</text>
<text class="r" x="1771.16" y="1254.00" font-size="34" transform="matrix(1 0 0 1.045 0 -56.430)">S.529</text>
<text class="r" x="1886.63" y="1254.00" font-size="34" transform="matrix(1 0 0 1.045 0 -56.430)">Empty</text>
<line x1="1718.70" y1="1272.00" x2="1929.90" y2="1272.00" stroke="#000" stroke-width="3.0" stroke-linecap="round"/>
<text class="r" x="1762.02" y="1317.00" font-size="33.5" transform="matrix(1 0 0 1.045 0 -59.265)">10</text>
<text class="b" x="1802.04" y="1304.50" font-size="16.0">10</text>
<text class="r" x="1833.46" y="1317.00" font-size="33.5" transform="matrix(1 0 0 1.045 0 -59.265)">vp</text>
<text class="i" x="1984.78" y="1154.90" font-size="34" transform="matrix(1 0 0 1.045 0 -51.970)">LLOD</text>
<text class="r" font-size="34.5" transform="translate(1537.00,1169.00) rotate(-90) scale(1,1.03)">SFU/10 <tspan font-size="26" dx="-3" dy="-14.3">6</tspan><tspan dy="14.3">splenocytes</tspan></text>
<polygon points="173.20,436.40 183.60,436.40 178.40,447.10" fill="#fff" stroke="#000" stroke-width="3.5" stroke-linejoin="bevel"/>
<polygon points="186.70,436.40 197.10,436.40 191.90,447.10" fill="#fff" stroke="#000" stroke-width="3.5" stroke-linejoin="bevel"/>
<polygon points="193.00,436.40 203.40,436.40 198.20,447.10" fill="#fff" stroke="#000" stroke-width="3.5" stroke-linejoin="bevel"/>
<polygon points="199.60,436.40 210.00,436.40 204.80,447.10" fill="#fff" stroke="#000" stroke-width="3.5" stroke-linejoin="bevel"/>
<polygon points="206.20,436.40 216.60,436.40 211.40,447.10" fill="#fff" stroke="#000" stroke-width="3.5" stroke-linejoin="bevel"/>
<polygon points="212.70,436.40 223.10,436.40 217.90,447.10" fill="#fff" stroke="#000" stroke-width="3.5" stroke-linejoin="bevel"/>
<polygon points="179.70,430.20 190.30,430.20 185.00,440.60"/>
<polygon points="199.70,425.10 210.30,425.10 205.00,435.50"/>
<line x1="173.10" y1="439.16" x2="223.10" y2="439.16" stroke="#ec1c24" stroke-width="5.2" stroke-linecap="round"/>
<polygon points="268.50,436.40 278.90,436.40 273.70,447.10" fill="#fff" stroke="#000" stroke-width="3.5" stroke-linejoin="bevel"/>
<polygon points="278.50,436.40 288.90,436.40 283.70,447.10" fill="#fff" stroke="#000" stroke-width="3.5" stroke-linejoin="bevel"/>
<polygon points="288.50,436.40 298.90,436.40 293.70,447.10" fill="#fff" stroke="#000" stroke-width="3.5" stroke-linejoin="bevel"/>
<polygon points="249.00,436.00 259.60,436.00 254.30,446.40"/>
<polygon points="258.70,434.10 269.30,434.10 264.00,444.50"/>
<polygon points="258.40,355.40 269.00,355.40 263.70,365.80"/>
<polygon points="268.40,363.30 279.00,363.30 273.70,373.70"/>
<polygon points="268.40,414.60 279.00,414.60 273.70,425.00"/>
<line x1="248.80" y1="419.33" x2="298.80" y2="419.33" stroke="#ec1c24" stroke-width="5.2" stroke-linecap="round"/>
<polygon points="324.10,436.40 334.50,436.40 329.30,447.10" fill="#fff" stroke="#000" stroke-width="3.5" stroke-linejoin="bevel"/>
<polygon points="344.00,436.40 354.40,436.40 349.20,447.10" fill="#fff" stroke="#000" stroke-width="3.5" stroke-linejoin="bevel"/>
<polygon points="354.10,436.40 364.50,436.40 359.30,447.10" fill="#fff" stroke="#000" stroke-width="3.5" stroke-linejoin="bevel"/>
<polygon points="364.00,436.40 374.40,436.40 369.20,447.10" fill="#fff" stroke="#000" stroke-width="3.5" stroke-linejoin="bevel"/>
<polygon points="334.00,432.90 344.40,432.90 339.20,443.60" fill="#fff" stroke="#000" stroke-width="3.5" stroke-linejoin="bevel"/>
<polygon points="344.00,319.90 354.60,319.90 349.30,330.30"/>
<polygon points="344.00,378.30 354.60,378.30 349.30,388.70"/>
<polygon points="344.00,415.30 354.60,415.30 349.30,425.70"/>
<line x1="324.50" y1="417.51" x2="374.50" y2="417.51" stroke="#ec1c24" stroke-width="5.2" stroke-linecap="round"/>
<polygon points="424.60,291.20 429.90,296.50 424.60,301.80 419.30,296.50"/>
<polygon points="424.60,304.80 429.90,310.10 424.60,315.40 419.30,310.10"/>
<polygon points="435.20,328.60 440.50,333.90 435.20,339.20 429.90,333.90"/>
<polygon points="414.10,337.40 419.40,342.70 414.10,348.00 408.80,342.70"/>
<polygon points="435.20,341.10 440.50,346.40 435.20,351.70 429.90,346.40"/>
<polygon points="414.10,349.40 419.40,354.70 414.10,360.00 408.80,354.70"/>
<polygon points="435.20,355.70 440.50,361.00 435.20,366.30 429.90,361.00"/>
<polygon points="424.60,392.30 429.90,397.60 424.60,402.90 419.30,397.60"/>
<line x1="400.10" y1="343.20" x2="450.10" y2="343.20" stroke="#ec1c24" stroke-width="5.2" stroke-linecap="round"/>
<polygon points="493.60,266.20 498.90,271.50 493.60,276.80 488.30,271.50"/>
<polygon points="506.90,274.20 512.20,279.50 506.90,284.80 501.60,279.50"/>
<polygon points="493.60,291.50 498.90,296.80 493.60,302.10 488.30,296.80"/>
<polygon points="480.60,298.70 485.90,304.00 480.60,309.30 475.30,304.00"/>
<polygon points="506.90,299.50 512.20,304.80 506.90,310.10 501.60,304.80"/>
<polygon points="520.20,295.80 525.50,301.10 520.20,306.40 514.90,301.10"/>
<polygon points="500.30,319.40 505.60,324.70 500.30,330.00 495.00,324.70"/>
<polygon points="500.30,366.00 505.60,371.30 500.30,376.60 495.00,371.30"/>
<line x1="475.60" y1="307.57" x2="525.60" y2="307.57" stroke="#ec1c24" stroke-width="5.2" stroke-linecap="round"/>
<polygon points="575.80,214.30 581.10,219.60 575.80,224.90 570.50,219.60"/>
<polygon points="575.80,234.60 581.10,239.90 575.80,245.20 570.50,239.90"/>
<polygon points="556.00,254.20 561.30,259.50 556.00,264.80 550.70,259.50"/>
<polygon points="575.80,252.10 581.10,257.40 575.80,262.70 570.50,257.40"/>
<polygon points="595.70,256.60 601.00,261.90 595.70,267.20 590.40,261.90"/>
<polygon points="575.80,264.20 581.10,269.50 575.80,274.80 570.50,269.50"/>
<polygon points="595.70,270.40 601.00,275.70 595.70,281.00 590.40,275.70"/>
<polygon points="556.00,279.20 561.30,284.50 556.00,289.80 550.70,284.50"/>
<line x1="551.30" y1="259.07" x2="601.30" y2="259.07" stroke="#ec1c24" stroke-width="5.2" stroke-linecap="round"/>
<circle cx="631.50" cy="441.30" r="5.0" fill="#fff" stroke="#000" stroke-width="3.0"/>
<circle cx="641.58" cy="441.30" r="5.0" fill="#fff" stroke="#000" stroke-width="3.0"/>
<circle cx="651.65" cy="441.30" r="5.0" fill="#fff" stroke="#000" stroke-width="3.0"/>
<circle cx="661.72" cy="441.30" r="5.0" fill="#fff" stroke="#000" stroke-width="3.0"/>
<circle cx="671.80" cy="441.30" r="5.0" fill="#fff" stroke="#000" stroke-width="3.0"/>
<line x1="626.90" y1="441.87" x2="676.90" y2="441.87" stroke="#ec1c24" stroke-width="5.2" stroke-linecap="round"/>
<polygon points="823.80,436.40 834.20,436.40 829.00,447.10" fill="#fff" stroke="#000" stroke-width="3.5" stroke-linejoin="bevel"/>
<polygon points="829.51,436.40 839.91,436.40 834.71,447.10" fill="#fff" stroke="#000" stroke-width="3.5" stroke-linejoin="bevel"/>
<polygon points="835.23,436.40 845.63,436.40 840.43,447.10" fill="#fff" stroke="#000" stroke-width="3.5" stroke-linejoin="bevel"/>
<polygon points="840.94,436.40 851.34,436.40 846.14,447.10" fill="#fff" stroke="#000" stroke-width="3.5" stroke-linejoin="bevel"/>
<polygon points="846.66,436.40 857.06,436.40 851.86,447.10" fill="#fff" stroke="#000" stroke-width="3.5" stroke-linejoin="bevel"/>
<polygon points="852.37,436.40 862.77,436.40 857.57,447.10" fill="#fff" stroke="#000" stroke-width="3.5" stroke-linejoin="bevel"/>
<polygon points="858.09,436.40 868.49,436.40 863.29,447.10" fill="#fff" stroke="#000" stroke-width="3.5" stroke-linejoin="bevel"/>
<polygon points="863.80,436.40 874.20,436.40 869.00,447.10" fill="#fff" stroke="#000" stroke-width="3.5" stroke-linejoin="bevel"/>
<line x1="824.10" y1="441.87" x2="874.10" y2="441.87" stroke="#ec1c24" stroke-width="5.2" stroke-linecap="round"/>
<polygon points="899.30,436.40 909.70,436.40 904.50,447.10" fill="#fff" stroke="#000" stroke-width="3.5" stroke-linejoin="bevel"/>
<polygon points="907.32,436.40 917.72,436.40 912.52,447.10" fill="#fff" stroke="#000" stroke-width="3.5" stroke-linejoin="bevel"/>
<polygon points="915.34,436.40 925.74,436.40 920.54,447.10" fill="#fff" stroke="#000" stroke-width="3.5" stroke-linejoin="bevel"/>
<polygon points="923.36,436.40 933.76,436.40 928.56,447.10" fill="#fff" stroke="#000" stroke-width="3.5" stroke-linejoin="bevel"/>
<polygon points="931.38,436.40 941.78,436.40 936.58,447.10" fill="#fff" stroke="#000" stroke-width="3.5" stroke-linejoin="bevel"/>
<polygon points="939.40,436.40 949.80,436.40 944.60,447.10" fill="#fff" stroke="#000" stroke-width="3.5" stroke-linejoin="bevel"/>
<polygon points="919.10,355.40 929.70,355.40 924.40,365.80"/>
<polygon points="919.10,421.30 929.70,421.30 924.40,431.70"/>
<line x1="899.80" y1="429.46" x2="949.80" y2="429.46" stroke="#ec1c24" stroke-width="5.2" stroke-linecap="round"/>
<polygon points="976.10,436.40 986.50,436.40 981.30,447.10" fill="#fff" stroke="#000" stroke-width="3.5" stroke-linejoin="bevel"/>
<polygon points="982.53,436.40 992.93,436.40 987.73,447.10" fill="#fff" stroke="#000" stroke-width="3.5" stroke-linejoin="bevel"/>
<polygon points="988.97,436.40 999.37,436.40 994.17,447.10" fill="#fff" stroke="#000" stroke-width="3.5" stroke-linejoin="bevel"/>
<polygon points="995.40,436.40 1005.80,436.40 1000.60,447.10" fill="#fff" stroke="#000" stroke-width="3.5" stroke-linejoin="bevel"/>
<polygon points="1001.83,436.40 1012.23,436.40 1007.03,447.10" fill="#fff" stroke="#000" stroke-width="3.5" stroke-linejoin="bevel"/>
<polygon points="1008.27,436.40 1018.67,436.40 1013.47,447.10" fill="#fff" stroke="#000" stroke-width="3.5" stroke-linejoin="bevel"/>
<polygon points="1014.70,436.40 1025.10,436.40 1019.90,447.10" fill="#fff" stroke="#000" stroke-width="3.5" stroke-linejoin="bevel"/>
<polygon points="994.70,323.00 1005.30,323.00 1000.00,333.40"/>
<line x1="975.50" y1="427.28" x2="1025.50" y2="427.28" stroke="#ec1c24" stroke-width="5.2" stroke-linecap="round"/>
<polygon points="1075.40,351.30 1080.70,356.60 1075.40,361.90 1070.10,356.60"/>
<polygon points="1075.40,374.50 1080.70,379.80 1075.40,385.10 1070.10,379.80"/>
<polygon points="1075.40,401.70 1080.70,407.00 1075.40,412.30 1070.10,407.00"/>
<polygon points="1055.70,408.40 1061.00,413.70 1055.70,419.00 1050.40,413.70"/>
<polygon points="1075.40,416.60 1080.70,421.90 1075.40,427.20 1070.10,421.90"/>
<polygon points="1055.70,436.30 1060.70,441.30 1055.70,446.30 1050.70,441.30" fill="#fff" stroke="#000" stroke-width="3.4"/>
<polygon points="1075.40,433.80 1080.70,439.10 1075.40,444.40 1070.10,439.10"/>
<polygon points="1095.40,436.30 1100.40,441.30 1095.40,446.30 1090.40,441.30" fill="#fff" stroke="#000" stroke-width="3.4"/>
<line x1="1050.50" y1="412.37" x2="1100.50" y2="412.37" stroke="#ec1c24" stroke-width="5.2" stroke-linecap="round"/>
<polygon points="1131.50,334.20 1136.80,339.50 1131.50,344.80 1126.20,339.50"/>
<polygon points="1171.20,337.60 1176.50,342.90 1171.20,348.20 1165.90,342.90"/>
<polygon points="1151.20,347.50 1156.50,352.80 1151.20,358.10 1145.90,352.80"/>
<polygon points="1131.50,389.60 1136.80,394.90 1131.50,400.20 1126.20,394.90"/>
<polygon points="1151.20,386.60 1156.50,391.90 1151.20,397.20 1145.90,391.90"/>
<polygon points="1171.20,389.60 1176.50,394.90 1171.20,400.20 1165.90,394.90"/>
<polygon points="1141.30,436.30 1146.30,441.30 1141.30,446.30 1136.30,441.30" fill="#fff" stroke="#000" stroke-width="3.4"/>
<polygon points="1160.90,432.50 1166.20,437.80 1160.90,443.10 1155.60,437.80"/>
<line x1="1126.10" y1="386.65" x2="1176.10" y2="386.65" stroke="#ec1c24" stroke-width="5.2" stroke-linecap="round"/>
<polygon points="1216.80,320.70 1222.10,326.00 1216.80,331.30 1211.50,326.00"/>
<polygon points="1236.50,319.50 1241.80,324.80 1236.50,330.10 1231.20,324.80"/>
<polygon points="1207.10,332.50 1212.40,337.80 1207.10,343.10 1201.80,337.80"/>
<polygon points="1226.80,336.10 1232.10,341.40 1226.80,346.70 1221.50,341.40"/>
<polygon points="1246.80,334.60 1252.10,339.90 1246.80,345.20 1241.50,339.90"/>
<polygon points="1226.80,355.80 1232.10,361.10 1226.80,366.40 1221.50,361.10"/>
<polygon points="1226.80,372.70 1232.10,378.00 1226.80,383.30 1221.50,378.00"/>
<polygon points="1226.80,421.70 1232.10,427.00 1226.80,432.30 1221.50,427.00"/>
<line x1="1202.10" y1="354.67" x2="1252.10" y2="354.67" stroke="#ec1c24" stroke-width="5.2" stroke-linecap="round"/>
<circle cx="1282.00" cy="441.30" r="5.0" fill="#fff" stroke="#000" stroke-width="3.0"/>
<circle cx="1292.25" cy="441.30" r="5.0" fill="#fff" stroke="#000" stroke-width="3.0"/>
<circle cx="1302.50" cy="441.30" r="5.0" fill="#fff" stroke="#000" stroke-width="3.0"/>
<circle cx="1312.75" cy="441.30" r="5.0" fill="#fff" stroke="#000" stroke-width="3.0"/>
<circle cx="1323.00" cy="441.30" r="5.0" fill="#fff" stroke="#000" stroke-width="3.0"/>
<line x1="1277.80" y1="441.87" x2="1327.80" y2="441.87" stroke="#ec1c24" stroke-width="5.2" stroke-linecap="round"/>
<polygon points="173.30,1047.40 183.90,1047.40 178.60,1057.80"/>
<polygon points="186.70,1054.10 197.30,1054.10 192.00,1064.50"/>
<polygon points="199.70,1052.40 210.30,1052.40 205.00,1062.80"/>
<polygon points="212.70,1044.30 223.30,1044.30 218.00,1054.70"/>
<polygon points="193.10,1067.40 203.70,1067.40 198.40,1077.80"/>
<polygon points="179.80,1122.10 190.20,1122.10 185.00,1132.80" fill="#fff" stroke="#000" stroke-width="3.5" stroke-linejoin="bevel"/>
<polygon points="193.10,1119.20 203.70,1119.20 198.40,1129.60"/>
<polygon points="206.20,1121.50 216.80,1121.50 211.50,1131.90"/>
<line x1="173.10" y1="1084.04" x2="223.10" y2="1084.04" stroke="#ec1c24" stroke-width="5.2" stroke-linecap="round"/>
<polygon points="268.40,924.10 279.00,924.10 273.70,934.50"/>
<polygon points="258.00,972.80 268.60,972.80 263.30,983.20"/>
<polygon points="279.20,980.40 289.80,980.40 284.50,990.80"/>
<polygon points="258.00,998.30 268.60,998.30 263.30,1008.70"/>
<polygon points="279.20,1001.30 289.80,1001.30 284.50,1011.70"/>
<polygon points="258.00,1017.80 268.60,1017.80 263.30,1028.20"/>
<polygon points="279.20,1021.30 289.80,1021.30 284.50,1031.70"/>
<polygon points="268.40,1048.00 279.00,1048.00 273.70,1058.40"/>
<line x1="248.80" y1="1001.28" x2="298.80" y2="1001.28" stroke="#ec1c24" stroke-width="5.2" stroke-linecap="round"/>
<polygon points="324.60,931.80 335.20,931.80 329.90,942.20"/>
<polygon points="337.40,934.40 348.00,934.40 342.70,944.80"/>
<polygon points="351.00,932.40 361.60,932.40 356.30,942.80"/>
<polygon points="364.00,935.80 374.60,935.80 369.30,946.20"/>
<polygon points="351.00,942.80 361.60,942.80 356.30,953.20"/>
<polygon points="344.00,957.80 354.60,957.80 349.30,968.20"/>
<polygon points="344.00,1000.40 354.60,1000.40 349.30,1010.80"/>
<polygon points="344.00,1031.80 354.60,1031.80 349.30,1042.20"/>
<line x1="324.50" y1="963.75" x2="374.50" y2="963.75" stroke="#ec1c24" stroke-width="5.2" stroke-linecap="round"/>
<line x1="400.10" y1="1127.87" x2="450.10" y2="1127.87" stroke="#ec1c24" stroke-width="5.2" stroke-linecap="round"/>
<polygon points="405.30,1122.30 410.30,1127.30 405.30,1132.30 400.30,1127.30" fill="none" stroke="#000" stroke-width="3.4"/>
<polygon points="411.06,1122.30 416.06,1127.30 411.06,1132.30 406.06,1127.30" fill="none" stroke="#000" stroke-width="3.4"/>
<polygon points="416.81,1122.30 421.81,1127.30 416.81,1132.30 411.81,1127.30" fill="none" stroke="#000" stroke-width="3.4"/>
<polygon points="422.57,1122.30 427.57,1127.30 422.57,1132.30 417.57,1127.30" fill="none" stroke="#000" stroke-width="3.4"/>
<polygon points="428.33,1122.30 433.33,1127.30 428.33,1132.30 423.33,1127.30" fill="none" stroke="#000" stroke-width="3.4"/>
<polygon points="434.09,1122.30 439.09,1127.30 434.09,1132.30 429.09,1127.30" fill="none" stroke="#000" stroke-width="3.4"/>
<polygon points="439.84,1122.30 444.84,1127.30 439.84,1132.30 434.84,1127.30" fill="none" stroke="#000" stroke-width="3.4"/>
<polygon points="445.60,1122.30 450.60,1127.30 445.60,1132.30 440.60,1127.30" fill="none" stroke="#000" stroke-width="3.4"/>
<polygon points="480.90,1122.30 485.90,1127.30 480.90,1132.30 475.90,1127.30" fill="#fff" stroke="#000" stroke-width="3.4"/>
<polygon points="487.55,1122.30 492.55,1127.30 487.55,1132.30 482.55,1127.30" fill="#fff" stroke="#000" stroke-width="3.4"/>
<polygon points="494.20,1122.30 499.20,1127.30 494.20,1132.30 489.20,1127.30" fill="#fff" stroke="#000" stroke-width="3.4"/>
<polygon points="500.85,1122.30 505.85,1127.30 500.85,1132.30 495.85,1127.30" fill="#fff" stroke="#000" stroke-width="3.4"/>
<polygon points="507.50,1122.30 512.50,1127.30 507.50,1132.30 502.50,1127.30" fill="#fff" stroke="#000" stroke-width="3.4"/>
<polygon points="514.15,1122.30 519.15,1127.30 514.15,1132.30 509.15,1127.30" fill="#fff" stroke="#000" stroke-width="3.4"/>
<polygon points="520.80,1122.30 525.80,1127.30 520.80,1132.30 515.80,1127.30" fill="#fff" stroke="#000" stroke-width="3.4"/>
<polygon points="500.60,1097.70 505.90,1103.00 500.60,1108.30 495.30,1103.00"/>
<line x1="475.60" y1="1105.33" x2="525.60" y2="1105.33" stroke="#ec1c24" stroke-width="5.2" stroke-linecap="round"/>
<polygon points="556.00,1122.30 561.00,1127.30 556.00,1132.30 551.00,1127.30" fill="#fff" stroke="#000" stroke-width="3.4"/>
<polygon points="569.30,1122.30 574.30,1127.30 569.30,1132.30 564.30,1127.30" fill="#fff" stroke="#000" stroke-width="3.4"/>
<polygon points="576.10,1122.30 581.10,1127.30 576.10,1132.30 571.10,1127.30" fill="#fff" stroke="#000" stroke-width="3.4"/>
<polygon points="582.70,1122.30 587.70,1127.30 582.70,1132.30 577.70,1127.30" fill="#fff" stroke="#000" stroke-width="3.4"/>
<polygon points="589.50,1122.30 594.50,1127.30 589.50,1132.30 584.50,1127.30" fill="#fff" stroke="#000" stroke-width="3.4"/>
<polygon points="596.00,1122.30 601.00,1127.30 596.00,1132.30 591.00,1127.30" fill="#fff" stroke="#000" stroke-width="3.4"/>
<polygon points="576.20,1101.10 581.50,1106.40 576.20,1111.70 570.90,1106.40"/>
<polygon points="562.80,1115.10 568.10,1120.40 562.80,1125.70 557.50,1120.40"/>
<line x1="551.30" y1="1125.16" x2="601.30" y2="1125.16" stroke="#ec1c24" stroke-width="5.2" stroke-linecap="round"/>
<circle cx="632.20" cy="1127.30" r="5.0" fill="#fff" stroke="#000" stroke-width="3.0"/>
<circle cx="645.43" cy="1127.30" r="5.0" fill="#fff" stroke="#000" stroke-width="3.0"/>
<circle cx="658.67" cy="1127.30" r="5.0" fill="#fff" stroke="#000" stroke-width="3.0"/>
<circle cx="671.90" cy="1127.30" r="5.0" fill="#fff" stroke="#000" stroke-width="3.0"/>
<circle cx="651.70" cy="1083.70" r="5.6"/>
<line x1="626.90" y1="1120.10" x2="676.90" y2="1120.10" stroke="#ec1c24" stroke-width="5.2" stroke-linecap="round"/>
<polygon points="823.30,1122.10 833.70,1122.10 828.50,1132.80" fill="#fff" stroke="#000" stroke-width="3.5" stroke-linejoin="bevel"/>
<polygon points="843.10,1122.10 853.50,1122.10 848.30,1132.80" fill="#fff" stroke="#000" stroke-width="3.5" stroke-linejoin="bevel"/>
<polygon points="852.70,1122.10 863.10,1122.10 857.90,1132.80" fill="#fff" stroke="#000" stroke-width="3.5" stroke-linejoin="bevel"/>
<polygon points="863.00,1122.10 873.40,1122.10 868.20,1132.80" fill="#fff" stroke="#000" stroke-width="3.5" stroke-linejoin="bevel"/>
<polygon points="838.00,1073.80 848.60,1073.80 843.30,1084.20"/>
<polygon points="847.80,1073.80 858.40,1073.80 853.10,1084.20"/>
<polygon points="843.00,1104.70 853.60,1104.70 848.30,1115.10"/>
<polygon points="833.20,1114.40 843.80,1114.40 838.50,1124.80"/>
<line x1="824.10" y1="1113.28" x2="874.10" y2="1113.28" stroke="#ec1c24" stroke-width="5.2" stroke-linecap="round"/>
<polygon points="908.10,994.40 918.70,994.40 913.40,1004.80"/>
<polygon points="929.10,990.40 939.70,990.40 934.40,1000.80"/>
<polygon points="908.10,1020.60 918.70,1020.60 913.40,1031.00"/>
<polygon points="929.10,1018.70 939.70,1018.70 934.40,1029.10"/>
<polygon points="918.40,1047.60 929.00,1047.60 923.70,1058.00"/>
<polygon points="908.10,1058.70 918.70,1058.70 913.40,1069.10"/>
<polygon points="929.10,1061.50 939.70,1061.50 934.40,1071.90"/>
<polygon points="918.40,1103.40 929.00,1103.40 923.70,1113.80"/>
<line x1="899.80" y1="1042.43" x2="949.80" y2="1042.43" stroke="#ec1c24" stroke-width="5.2" stroke-linecap="round"/>
<polygon points="994.10,945.70 1004.70,945.70 999.40,956.10"/>
<polygon points="994.10,980.10 1004.70,980.10 999.40,990.50"/>
<polygon points="974.30,988.00 984.90,988.00 979.60,998.40"/>
<polygon points="1014.10,983.80 1024.70,983.80 1019.40,994.20"/>
<polygon points="1005.70,999.80 1016.30,999.80 1011.00,1010.20"/>
<polygon points="984.30,1003.80 994.90,1003.80 989.60,1014.20"/>
<polygon points="994.10,1045.10 1004.70,1045.10 999.40,1055.50"/>
<polygon points="994.10,1072.60 1004.70,1072.60 999.40,1083.00"/>
<line x1="975.50" y1="1007.61" x2="1025.50" y2="1007.61" stroke="#ec1c24" stroke-width="5.2" stroke-linecap="round"/>
<polygon points="1055.30,1122.30 1060.30,1127.30 1055.30,1132.30 1050.30,1127.30" fill="#fff" stroke="#000" stroke-width="3.4"/>
<polygon points="1062.02,1122.30 1067.02,1127.30 1062.02,1132.30 1057.02,1127.30" fill="#fff" stroke="#000" stroke-width="3.4"/>
<polygon points="1068.73,1122.30 1073.73,1127.30 1068.73,1132.30 1063.73,1127.30" fill="#fff" stroke="#000" stroke-width="3.4"/>
<polygon points="1075.45,1122.30 1080.45,1127.30 1075.45,1132.30 1070.45,1127.30" fill="#fff" stroke="#000" stroke-width="3.4"/>
<polygon points="1082.17,1122.30 1087.17,1127.30 1082.17,1132.30 1077.17,1127.30" fill="#fff" stroke="#000" stroke-width="3.4"/>
<polygon points="1088.88,1122.30 1093.88,1127.30 1088.88,1132.30 1083.88,1127.30" fill="#fff" stroke="#000" stroke-width="3.4"/>
<polygon points="1095.60,1122.30 1100.60,1127.30 1095.60,1132.30 1090.60,1127.30" fill="#fff" stroke="#000" stroke-width="3.4"/>
<polygon points="1075.00,1061.70 1080.30,1067.00 1075.00,1072.30 1069.70,1067.00"/>
<line x1="1050.50" y1="1120.10" x2="1100.50" y2="1120.10" stroke="#ec1c24" stroke-width="5.2" stroke-linecap="round"/>
<polygon points="1130.40,1122.30 1135.40,1127.30 1130.40,1132.30 1125.40,1127.30" fill="#fff" stroke="#000" stroke-width="3.4"/>
<polygon points="1139.00,1122.30 1144.00,1127.30 1139.00,1132.30 1134.00,1127.30" fill="#fff" stroke="#000" stroke-width="3.4"/>
<polygon points="1146.70,1122.30 1151.70,1127.30 1146.70,1132.30 1141.70,1127.30" fill="#fff" stroke="#000" stroke-width="3.4"/>
<polygon points="1154.50,1122.30 1159.50,1127.30 1154.50,1132.30 1149.50,1127.30" fill="#fff" stroke="#000" stroke-width="3.4"/>
<polygon points="1162.50,1122.30 1167.50,1127.30 1162.50,1132.30 1157.50,1127.30" fill="#fff" stroke="#000" stroke-width="3.4"/>
<polygon points="1170.80,1122.30 1175.80,1127.30 1170.80,1132.30 1165.80,1127.30" fill="#fff" stroke="#000" stroke-width="3.4"/>
<polygon points="1139.00,1119.20 1144.30,1124.50 1139.00,1129.80 1133.70,1124.50"/>
<polygon points="1150.30,1092.00 1155.60,1097.30 1150.30,1102.60 1145.00,1097.30"/>
<polygon points="1150.30,1036.80 1155.60,1042.10 1150.30,1047.40 1145.00,1042.10"/>
<line x1="1126.10" y1="1113.28" x2="1176.10" y2="1113.28" stroke="#ec1c24" stroke-width="5.2" stroke-linecap="round"/>
<polygon points="1206.30,1122.30 1211.30,1127.30 1206.30,1132.30 1201.30,1127.30" fill="#fff" stroke="#000" stroke-width="3.4"/>
<polygon points="1222.20,1122.30 1227.20,1127.30 1222.20,1132.30 1217.20,1127.30" fill="#fff" stroke="#000" stroke-width="3.4"/>
<polygon points="1230.00,1122.30 1235.00,1127.30 1230.00,1132.30 1225.00,1127.30" fill="#fff" stroke="#000" stroke-width="3.4"/>
<polygon points="1238.10,1122.30 1243.10,1127.30 1238.10,1132.30 1233.10,1127.30" fill="#fff" stroke="#000" stroke-width="3.4"/>
<polygon points="1246.70,1122.30 1251.70,1127.30 1246.70,1132.30 1241.70,1127.30" fill="#fff" stroke="#000" stroke-width="3.4"/>
<polygon points="1206.30,1105.10 1211.60,1110.40 1206.30,1115.70 1201.00,1110.40"/>
<polygon points="1222.20,1100.00 1227.50,1105.30 1222.20,1110.60 1216.90,1105.30"/>
<polygon points="1222.20,1112.50 1227.50,1117.80 1222.20,1123.10 1216.90,1117.80"/>
<line x1="1202.10" y1="1120.10" x2="1252.10" y2="1120.10" stroke="#ec1c24" stroke-width="5.2" stroke-linecap="round"/>
<circle cx="1281.80" cy="1127.30" r="5.0" fill="#fff" stroke="#000" stroke-width="3.0"/>
<circle cx="1291.75" cy="1127.30" r="5.0" fill="#fff" stroke="#000" stroke-width="3.0"/>
<circle cx="1301.70" cy="1127.30" r="5.0" fill="#fff" stroke="#000" stroke-width="3.0"/>
<circle cx="1311.65" cy="1127.30" r="5.0" fill="#fff" stroke="#000" stroke-width="3.0"/>
<circle cx="1321.60" cy="1127.30" r="5.0" fill="#fff" stroke="#000" stroke-width="3.0"/>
<line x1="1277.80" y1="1127.87" x2="1327.80" y2="1127.87" stroke="#ec1c24" stroke-width="5.2" stroke-linecap="round"/>
<text class="b" x="1706.62" y="212.40" font-size="34.7" letter-spacing="3.50">**</text>
<text class="b" x="1800.42" y="212.40" font-size="34.7" letter-spacing="3.50">**</text>
<text class="b" x="1710.22" y="898.30" font-size="34.7" letter-spacing="3.50">**</text>
<text class="b" x="1800.62" y="898.30" font-size="34.7" letter-spacing="3.50">**</text>
<polygon points="1686.55,263.20 1700.65,263.20 1693.60,276.80"/>
<polygon points="1696.35,276.20 1710.45,276.20 1703.40,289.80"/>
<polygon points="1715.35,278.20 1729.45,278.20 1722.40,291.80"/>
<polygon points="1726.05,274.20 1740.15,274.20 1733.10,287.80"/>
<polygon points="1736.25,281.20 1750.35,281.20 1743.30,294.80"/>
<polygon points="1686.55,287.70 1700.65,287.70 1693.60,301.30"/>
<polygon points="1706.25,286.20 1720.35,286.20 1713.30,299.80"/>
<polygon points="1726.05,289.20 1740.15,289.20 1733.10,302.80"/>
<line x1="1686.90" y1="286.30" x2="1749.90" y2="286.30" stroke="#ec1c24" stroke-width="3.0" stroke-linecap="round"/>
<polygon points="1789.10,256.05 1796.25,263.20 1789.10,270.35 1781.95,263.20"/>
<polygon points="1805.40,268.95 1812.55,276.10 1805.40,283.25 1798.25,276.10"/>
<polygon points="1821.90,264.65 1829.05,271.80 1821.90,278.95 1814.75,271.80"/>
<polygon points="1789.10,276.45 1796.25,283.60 1789.10,290.75 1781.95,283.60"/>
<polygon points="1838.50,278.45 1845.65,285.60 1838.50,292.75 1831.35,285.60"/>
<polygon points="1805.40,285.95 1812.55,293.10 1805.40,300.25 1798.25,293.10"/>
<polygon points="1821.90,287.75 1829.05,294.90 1821.90,302.05 1814.75,294.90"/>
<polygon points="1814.00,327.45 1821.15,334.60 1814.00,341.75 1806.85,334.60"/>
<line x1="1782.60" y1="287.70" x2="1845.60" y2="287.70" stroke="#ec1c24" stroke-width="3.0" stroke-linecap="round"/>
<circle cx="1884.30" cy="457.30" r="6.7" fill="#fff" stroke="#000" stroke-width="3.4"/>
<circle cx="1896.80" cy="457.30" r="6.7" fill="#fff" stroke="#000" stroke-width="3.4"/>
<circle cx="1909.00" cy="457.30" r="6.7" fill="#fff" stroke="#000" stroke-width="3.4"/>
<circle cx="1921.50" cy="457.30" r="6.7" fill="#fff" stroke="#000" stroke-width="3.4"/>
<circle cx="1934.00" cy="457.30" r="6.7" fill="#fff" stroke="#000" stroke-width="3.4"/>
<line x1="1878.20" y1="457.30" x2="1941.20" y2="457.30" stroke="#ec1c24" stroke-width="3.0" stroke-linecap="round"/>
<polygon points="1686.85,952.80 1700.95,952.80 1693.90,966.40"/>
<polygon points="1703.15,960.90 1717.25,960.90 1710.20,974.50"/>
<polygon points="1719.85,966.20 1733.95,966.20 1726.90,979.80"/>
<polygon points="1736.25,962.20 1750.35,962.20 1743.30,975.80"/>
<polygon points="1686.85,970.90 1700.95,970.90 1693.90,984.50"/>
<polygon points="1736.25,979.20 1750.35,979.20 1743.30,992.80"/>
<polygon points="1686.85,989.70 1700.95,989.70 1693.90,1003.30"/>
<polygon points="1719.85,985.70 1733.95,985.70 1726.90,999.30"/>
<line x1="1686.90" y1="977.70" x2="1749.90" y2="977.70" stroke="#ec1c24" stroke-width="3.0" stroke-linecap="round"/>
<polygon points="1838.90,951.05 1846.05,958.20 1838.90,965.35 1831.75,958.20"/>
<polygon points="1789.30,964.65 1796.45,971.80 1789.30,978.95 1782.15,971.80"/>
<polygon points="1814.00,966.05 1821.15,973.20 1814.00,980.35 1806.85,973.20"/>
<polygon points="1838.90,969.55 1846.05,976.70 1838.90,983.85 1831.75,976.70"/>
<polygon points="1789.30,980.05 1796.45,987.20 1789.30,994.35 1782.15,987.20"/>
<polygon points="1814.00,983.75 1821.15,990.90 1814.00,998.05 1806.85,990.90"/>
<polygon points="1838.90,992.35 1846.05,999.50 1838.90,1006.65 1831.75,999.50"/>
<polygon points="1789.30,1000.85 1796.45,1008.00 1789.30,1015.15 1782.15,1008.00"/>
<line x1="1782.60" y1="983.10" x2="1845.60" y2="983.10" stroke="#ec1c24" stroke-width="3.0" stroke-linecap="round"/>
<circle cx="1884.60" cy="1143.40" r="6.7" fill="#fff" stroke="#000" stroke-width="3.4"/>
<circle cx="1909.50" cy="1143.40" r="6.7" fill="#fff" stroke="#000" stroke-width="3.4"/>
<circle cx="1934.60" cy="1143.40" r="6.7" fill="#fff" stroke="#000" stroke-width="3.4"/>
<circle cx="1897.30" cy="1138.20" r="6.7"/>
<circle cx="1922.00" cy="1138.20" r="6.7"/>
<line x1="1878.20" y1="1141.30" x2="1941.20" y2="1141.30" stroke="#ec1c24" stroke-width="3.0" stroke-linecap="round"/>
</svg>
</body></html>
